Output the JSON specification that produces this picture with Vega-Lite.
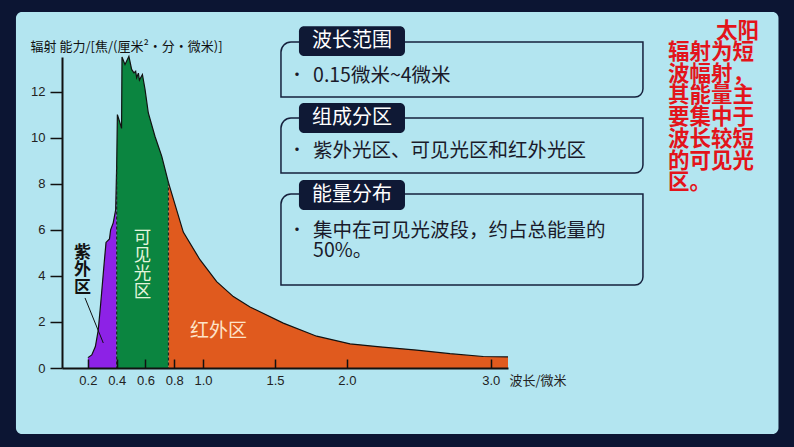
{
  "$schema": "https://vega.github.io/schema/vega-lite/v6.json",
  "width": 446,
  "height": 311,
  "autosize": {"type": "none"},
  "padding": {"left": 62, "top": 57, "right": 286, "bottom": 79},
  "background": "#0c1533",
  "config": {"view": {"stroke": null}, "font": "Noto Sans CJK SC"},
  "data": {"values": [{}]},
  "datasets": {
    "spectrum": [
      {"w": 0.2, "v": 0.45, "region": "紫外区"},
      {"w": 0.227, "v": 0.57, "region": "紫外区"},
      {"w": 0.252, "v": 0.93, "region": "紫外区"},
      {"w": 0.272, "v": 1.65, "region": "紫外区"},
      {"w": 0.289, "v": 2.8, "region": "紫外区"},
      {"w": 0.313, "v": 4.55, "region": "紫外区"},
      {"w": 0.326, "v": 5.45, "region": "紫外区"},
      {"w": 0.35, "v": 5.6, "region": "紫外区"},
      {"w": 0.358, "v": 6.0, "region": "紫外区"},
      {"w": 0.376, "v": 6.3, "region": "紫外区"},
      {"w": 0.393, "v": 6.87, "region": "紫外区"},
      {"w": 0.4, "v": 8.75, "region": "紫外区"},
      {"w": 0.4, "v": 8.75, "region": "可见光区"},
      {"w": 0.405, "v": 11.0, "region": "可见光区"},
      {"w": 0.423, "v": 10.64, "region": "可见光区"},
      {"w": 0.434, "v": 10.4, "region": "可见光区"},
      {"w": 0.437, "v": 13.5, "region": "可见光区"},
      {"w": 0.458, "v": 13.17, "region": "可见光区"},
      {"w": 0.485, "v": 13.53, "region": "可见光区"},
      {"w": 0.504, "v": 12.96, "region": "可见光区"},
      {"w": 0.52, "v": 12.81, "region": "可见光区"},
      {"w": 0.532, "v": 12.88, "region": "可见光区"},
      {"w": 0.539, "v": 12.6, "region": "可见光区"},
      {"w": 0.551, "v": 12.8, "region": "可见光区"},
      {"w": 0.558, "v": 12.5, "region": "可见光区"},
      {"w": 0.579, "v": 12.74, "region": "可见光区"},
      {"w": 0.597, "v": 12.1, "region": "可见光区"},
      {"w": 0.62, "v": 11.07, "region": "可见光区"},
      {"w": 0.666, "v": 10.06, "region": "可见光区"},
      {"w": 0.713, "v": 9.2, "region": "可见光区"},
      {"w": 0.76, "v": 8.05, "region": "可见光区"},
      {"w": 0.76, "v": 8.05, "region": "红外区"},
      {"w": 0.863, "v": 5.9, "region": "红外区"},
      {"w": 0.979, "v": 4.7, "region": "红外区"},
      {"w": 1.095, "v": 3.75, "region": "红外区"},
      {"w": 1.211, "v": 3.1, "region": "红外区"},
      {"w": 1.327, "v": 2.65, "region": "红外区"},
      {"w": 1.558, "v": 1.95, "region": "红外区"},
      {"w": 1.79, "v": 1.38, "region": "红外区"},
      {"w": 2.022, "v": 1.05, "region": "红外区"},
      {"w": 2.23, "v": 0.92, "region": "红外区"},
      {"w": 2.485, "v": 0.78, "region": "红外区"},
      {"w": 2.717, "v": 0.62, "region": "红外区"},
      {"w": 2.948, "v": 0.5, "region": "红外区"},
      {"w": 3.12, "v": 0.48, "region": "红外区"}
    ],
    "bounds": [
      {"w": 0.4, "v": 8.75},
      {"w": 0.76, "v": 8.05}
    ]
  },
  "layer": [
    {
      "mark": {"type": "rect", "fill": "#b3e5f0", "cornerRadius": 6},
      "encoding": {
        "x": {
          "datum": -0.3, "type": "quantitative",
          "scale": {"domain": [0.02, 3.12], "nice": false, "zero": false},
          "axis": {
            "values": [0.2, 0.4, 0.6, 0.8, 1.0, 1.5, 2.0, 3.0], "format": ".1f",
            "labelFont": "Liberation Sans", "labelFontSize": 13, "labelColor": "#222222", "labelPadding": 15,
            "tickSize": -9, "tickColor": "#111111", "tickWidth": 1.5,
            "domainColor": "#111111", "domainWidth": 2, "grid": false, "zindex": 1, "labelFlush": false,
            "title": "波长/微米", "titleX": 447, "titleY": 12, "titleAlign": "left", "titleBaseline": "middle",
            "titleAngle": 0, "titleFontSize": 13, "titleFontWeight": "normal", "titleColor": "#222222", "titleFont": "Noto Sans CJK SC"
          }
        },
        "x2": {"datum": 5.0},
        "y": {
          "datum": 15.45, "type": "quantitative",
          "scale": {"domain": [0, 13.5], "nice": false, "zero": false},
          "axis": {
            "values": [0, 2, 4, 6, 8, 10, 12], "format": "d",
            "labelFont": "Liberation Sans", "labelFontSize": 13, "labelColor": "#222222", "labelPadding": 5,
            "tickSize": 12, "tickColor": "#111111", "tickWidth": 1.5,
            "domainColor": "#111111", "domainWidth": 2, "grid": false, "zindex": 1,
            "title": "辐射  能力/[焦/(厘米²•分•微米)]", "titleX": -32, "titleY": -11, "titleAlign": "left", "titleBaseline": "middle",
            "titleAngle": 0, "titleFontSize": 13, "titleFontWeight": "normal", "titleColor": "#111111", "titleFont": "Noto Sans CJK SC"
          }
        },
        "y2": {"datum": -2.865}
      }
    },
    {
      "mark": {"type": "rect", "filled": false, "stroke": "#16203c", "strokeWidth": 1.5, "cornerRadiusTopLeft": 10, "cornerRadiusBottomRight": 8},
      "encoding": {
        "x": {"datum": 1.542, "type": "quantitative"},
        "x2": {"datum": 4.058},
        "y": {"datum": 14.15, "type": "quantitative"},
        "y2": {"datum": 11.76}
      }
    },
    {
      "mark": {"type": "rect", "filled": false, "stroke": "#16203c", "strokeWidth": 1.5, "cornerRadiusTopLeft": 10, "cornerRadiusBottomRight": 8},
      "encoding": {
        "x": {"datum": 1.542, "type": "quantitative"},
        "x2": {"datum": 4.058},
        "y": {"datum": 10.85, "type": "quantitative"},
        "y2": {"datum": 8.46}
      }
    },
    {
      "mark": {"type": "rect", "filled": false, "stroke": "#16203c", "strokeWidth": 1.5, "cornerRadiusTopLeft": 10, "cornerRadiusBottomRight": 8},
      "encoding": {
        "x": {"datum": 1.542, "type": "quantitative"},
        "x2": {"datum": 4.058},
        "y": {"datum": 7.55, "type": "quantitative"},
        "y2": {"datum": 3.6}
      }
    },
    {
      "mark": {"type": "rect", "fill": "#0f1935", "cornerRadius": 5},
      "encoding": {
        "x": {"datum": 1.667, "type": "quantitative"},
        "x2": {"datum": 2.404},
        "y": {"datum": 14.84, "type": "quantitative"},
        "y2": {"datum": 13.54}
      }
    },
    {
      "mark": {"type": "rect", "fill": "#0f1935", "cornerRadius": 5},
      "encoding": {
        "x": {"datum": 1.667, "type": "quantitative"},
        "x2": {"datum": 2.404},
        "y": {"datum": 11.5, "type": "quantitative"},
        "y2": {"datum": 10.2}
      }
    },
    {
      "mark": {"type": "rect", "fill": "#0f1935", "cornerRadius": 5},
      "encoding": {
        "x": {"datum": 1.667, "type": "quantitative"},
        "x2": {"datum": 2.404},
        "y": {"datum": 8.16, "type": "quantitative"},
        "y2": {"datum": 6.86}
      }
    },
    {
      "mark": {"type": "text", "text": "波长范围", "fontSize": 20, "color": "#ffffff", "align": "center", "baseline": "middle"},
      "encoding": {
        "x": {"datum": 2.036, "type": "quantitative"},
        "y": {"datum": 14.19, "type": "quantitative"}
      }
    },
    {
      "mark": {"type": "text", "text": "组成分区", "fontSize": 20, "color": "#ffffff", "align": "center", "baseline": "middle"},
      "encoding": {
        "x": {"datum": 2.036, "type": "quantitative"},
        "y": {"datum": 10.85, "type": "quantitative"}
      }
    },
    {
      "mark": {"type": "text", "text": "能量分布", "fontSize": 20, "color": "#ffffff", "align": "center", "baseline": "middle"},
      "encoding": {
        "x": {"datum": 2.036, "type": "quantitative"},
        "y": {"datum": 7.51, "type": "quantitative"}
      }
    },
    {
      "mark": {"type": "text", "text": "•", "fontSize": 16, "color": "#1a1a2a", "align": "center", "baseline": "middle"},
      "encoding": {
        "x": {"datum": 1.653, "type": "quantitative"},
        "y": {"datum": 12.72, "type": "quantitative"}
      }
    },
    {
      "mark": {"type": "text", "text": "•", "fontSize": 16, "color": "#1a1a2a", "align": "center", "baseline": "middle"},
      "encoding": {
        "x": {"datum": 1.653, "type": "quantitative"},
        "y": {"datum": 9.46, "type": "quantitative"}
      }
    },
    {
      "mark": {"type": "text", "text": "•", "fontSize": 16, "color": "#1a1a2a", "align": "center", "baseline": "middle"},
      "encoding": {
        "x": {"datum": 1.653, "type": "quantitative"},
        "y": {"datum": 5.99, "type": "quantitative"}
      }
    },
    {
      "mark": {"type": "text", "text": "0.15微米~4微米", "fontSize": 19.5, "color": "#1a1a2a", "align": "left", "baseline": "middle"},
      "encoding": {
        "x": {"datum": 1.765, "type": "quantitative"},
        "y": {"datum": 12.66, "type": "quantitative"}
      }
    },
    {
      "mark": {"type": "text", "text": "紫外光区、可见光区和红外光区", "fontSize": 19.5, "color": "#1a1a2a", "align": "left", "baseline": "middle"},
      "encoding": {
        "x": {"datum": 1.765, "type": "quantitative"},
        "y": {"datum": 9.42, "type": "quantitative"}
      }
    },
    {
      "mark": {"type": "text", "text": ["集中在可见光波段，约占总能量的", "50%。"], "fontSize": 19.5, "lineHeight": 20, "color": "#1a1a2a", "align": "left", "baseline": "middle"},
      "encoding": {
        "x": {"datum": 1.765, "type": "quantitative"},
        "y": {"datum": 5.95, "type": "quantitative"}
      }
    },
    {
      "data": {"name": "spectrum"},
      "mark": {"type": "area", "interpolate": "linear"},
      "encoding": {
        "x": {"field": "w", "type": "quantitative"},
        "y": {"field": "v", "type": "quantitative", "stack": null},
        "color": {
          "field": "region", "type": "nominal",
          "scale": {"domain": ["紫外区", "可见光区", "红外区"], "range": ["#8d22e6", "#0b8540", "#e05a1e"]},
          "legend": null
        }
      }
    },
    {
      "data": {"name": "spectrum"},
      "mark": {"type": "line", "color": "#111111", "strokeWidth": 1.2},
      "encoding": {
        "x": {"field": "w", "type": "quantitative"},
        "y": {"field": "v", "type": "quantitative"}
      }
    },
    {
      "data": {"name": "bounds"},
      "mark": {"type": "rule", "color": "#222222", "strokeWidth": 1.2, "strokeDash": [3, 2]},
      "encoding": {
        "x": {"field": "w", "type": "quantitative"},
        "y": {"field": "v", "type": "quantitative"},
        "y2": {"datum": 0}
      }
    },
    {
      "mark": {"type": "rule", "color": "#111111", "strokeWidth": 1},
      "encoding": {
        "x": {"datum": 0.18, "type": "quantitative"},
        "x2": {"datum": 0.307},
        "y": {"datum": 3.04, "type": "quantitative"},
        "y2": {"datum": 1.085}
      }
    },
    {
      "mark": {"type": "text", "text": ["紫", "外", "区"], "fontSize": 17, "lineHeight": 17.5, "fontWeight": "bold", "color": "#111111", "align": "center", "baseline": "middle"},
      "encoding": {
        "x": {"datum": 0.1625, "type": "quantitative"},
        "y": {"datum": 5.01, "type": "quantitative"}
      }
    },
    {
      "mark": {"type": "text", "text": ["可", "见", "光", "区"], "fontSize": 17.5, "lineHeight": 18, "color": "#e4f5dc", "align": "center", "baseline": "middle"},
      "encoding": {
        "x": {"datum": 0.5795, "type": "quantitative"},
        "y": {"datum": 5.65, "type": "quantitative"}
      }
    },
    {
      "mark": {"type": "text", "text": "红外区", "fontSize": 19, "color": "#fde3c8", "align": "center", "baseline": "middle"},
      "encoding": {
        "x": {"datum": 1.108, "type": "quantitative"},
        "y": {"datum": 1.62, "type": "quantitative"}
      }
    },
    {
      "mark": {"type": "text", "text": "太阳", "fontSize": 21.5, "fontWeight": "bold", "color": "#e3141b", "align": "right", "baseline": "middle"},
      "encoding": {
        "x": {"datum": 4.865, "type": "quantitative"},
        "y": {"datum": 14.6, "type": "quantitative"}
      }
    },
    {
      "mark": {"type": "text", "text": ["辐射为短", "波幅射，", "其能量主", "要集中于", "波长较短", "的可见光", "区。"], "fontSize": 21.5, "lineHeight": 21.7, "fontWeight": "bold", "color": "#e3141b", "align": "left", "baseline": "middle"},
      "encoding": {
        "x": {"datum": 4.232, "type": "quantitative"},
        "y": {"datum": 13.67, "type": "quantitative"}
      }
    }
  ]
}
